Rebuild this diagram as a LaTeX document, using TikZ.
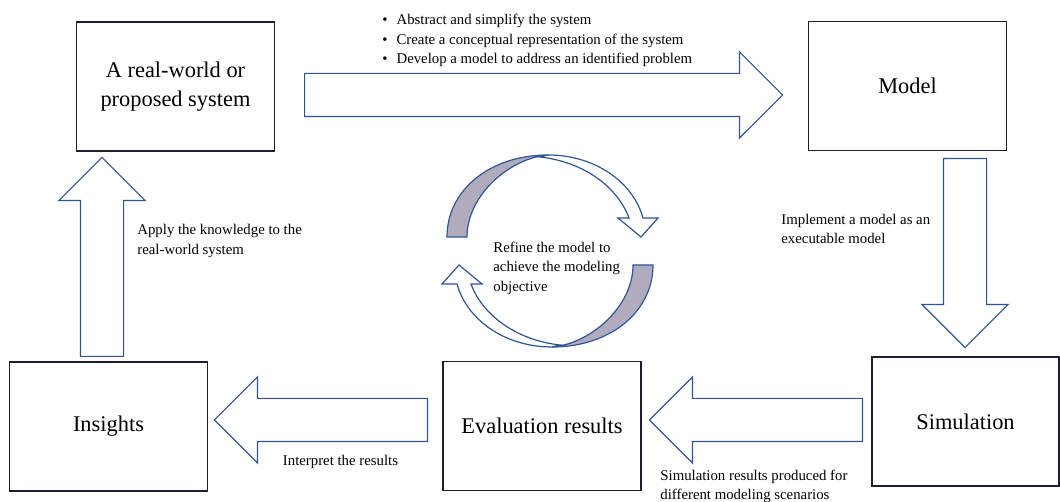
\documentclass[tikz,border=0pt]{standalone}
\usepackage{fontspec}
\setmainfont{Liberation Serif}
\usetikzlibrary{shapes.arrows}
\definecolor{arrowBlue}{RGB}{47,85,151}
\definecolor{boxEdge}{RGB}{30,30,50}
\definecolor{ribbonGray}{RGB}{176,172,190}
\newcommand{\boxfont}{\fontsize{11.2}{14.5}\selectfont}
\newcommand{\lblfont}{\fontsize{7.4}{9.8}\selectfont}

\begin{document}
\begin{tikzpicture}
[x=0.5pt,y=0.5pt,
  boxDecorate/.style={rectangle,draw=boxEdge,line width=0.6pt,minimum width=99pt,
    minimum height=64.5pt,inner sep=0pt,align=center,font=\boxfont},
  arrowDecorate/.style={single arrow,draw=arrowBlue,line width=0.6pt,
    single arrow tip angle=90,single arrow head extend=10.75pt,
    inner xsep=0pt,inner ysep=10.5pt,minimum width=1pt,anchor=tail},
  labelDecorate/.style={align=left,inner sep=0pt,font=\lblfont},
  ribbonDecorate/.style={draw=arrowBlue,line width=0.6pt}]
\useasboundingbox (0,0) rectangle (1060,502);
%% boxes
\node (sys) at (175.5,415.5) [boxDecorate] {A real-world or\\proposed system};
\node (model) at (907.5,416) [boxDecorate] {Model};
\node (sim) at (965.5,80.5) [boxDecorate,minimum width=93.5pt] {Simulation};
\node (eval) at (542,76) [boxDecorate] {Evaluation results};
\node (ins) at (108.5,75.5) [boxDecorate] {Insights};
%% block arrows (placed by their tails)
\foreach \arrowname/\x/\y/\len/\dir in {
  toModel/304/407/239/0,
  toSim/965/344/94.5/-90,
  toEval/863/82/106.5/180,
  toIns/428/82/106.5/180,
  toSys/102/145/99.5/90}
{
  \node (\arrowname) at (\x,\y) [arrowDecorate,minimum height=\len pt,rotate=\dir] {};
}
%% refine loop
\foreach \turn in {0,180}
{
  \begin{scope}[rotate around={\turn:(550,251)}]
    \draw[ribbonDecorate,fill=white] (548,347) .. controls (595,347) and (633,320) .. (643,284)
      -- (658,284) -- (641,265) -- (618,284) -- (629,284)
      .. controls (618,314) and (585,340) .. (540,345) -- cycle;
    \draw[ribbonDecorate,fill=ribbonGray] (447,265) .. controls (447,312) and (490,347) .. (548,347)
      .. controls (510,344) and (467,307) .. (467,265) -- cycle;
  \end{scope}
}
%% labels
\node (steps) at (382,461.5) [labelDecorate,anchor=west]
  {\textbullet\hspace{4.5pt}Abstract and simplify the system\\
   \textbullet\hspace{4.5pt}Create a conceptual representation of the system\\
   \textbullet\hspace{4.5pt}Develop a model to address an identified problem};
\node (implement) at (781,273) [labelDecorate,anchor=west]
  {Implement a model as an\\executable model};
\node (apply) at (137,261) [labelDecorate,anchor=west]
  {Apply the knowledge to the\\real-world system};
\node (refine) at (493,234) [labelDecorate,anchor=west]
  {Refine the model to\\achieve the modeling\\objective};
\node (interpret) at (340.5,40) [labelDecorate] {Interpret the results};
\node (simres) at (660,15.5) [labelDecorate,anchor=west]
  {Simulation results produced for\\different modeling scenarios};
\end{tikzpicture}
\end{document}
